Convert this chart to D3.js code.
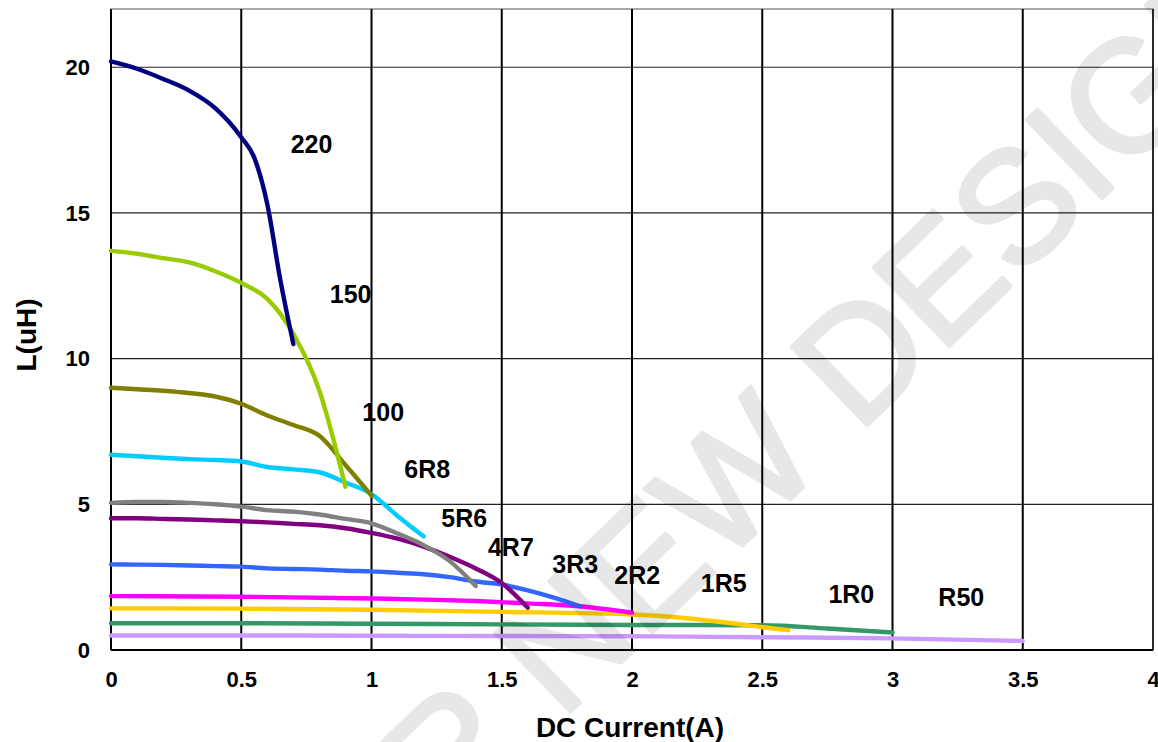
<!DOCTYPE html>
<html>
<head>
<meta charset="utf-8">
<script src="https://cdn.jsdelivr.net/npm/d3@7"></script>
<style>
  body { margin: 0; background: #fff; }
  text { font-family: "Liberation Sans", Arial, sans-serif; font-weight: bold; fill: #000; }
</style>
</head>
<body>
<svg id="chart" width="1158" height="742"></svg>
<script>
// inductance vs DC current, one curve per part code
var seriesNames = ["220", "150", "100", "6R8", "5R6", "4R7", "3R3", "2R2", "1R5", "1R0", "R50"];
var seriesColors = ["#000080", "#99cc00", "#808000", "#00ccff", "#808080", "#800080", "#3366ff", "#ff00ff", "#ffcc00", "#339966", "#cc99ff"];

var current220 = [0, 0.1, 0.2, 0.3, 0.4, 0.5, 0.55, 0.6, 0.65, 0.7];
var induct220  = [20.2, 19.95, 19.6, 19.2, 18.6, 17.6, 16.9, 15.3, 12.7, 10.5];
var current150 = [0, 0.1, 0.2, 0.3, 0.4, 0.5, 0.6, 0.7, 0.8, 0.9];
var induct150  = [13.7, 13.6, 13.45, 13.3, 13.0, 12.6, 12.05, 10.85, 8.9, 5.6];
var current100 = [0, 0.1, 0.2, 0.3, 0.4, 0.5, 0.6, 0.7, 0.8, 0.9, 1.0];
var induct100  = [9.0, 8.95, 8.9, 8.82, 8.7, 8.45, 8.05, 7.72, 7.35, 6.35, 5.3];
var current6R8 = [0, 0.1, 0.2, 0.3, 0.4, 0.5, 0.6, 0.7, 0.8, 0.9, 1.0, 1.1, 1.2];
var induct6R8  = [6.7, 6.65, 6.6, 6.55, 6.52, 6.47, 6.28, 6.2, 6.1, 5.75, 5.35, 4.6, 3.9];
var current5R6 = [0, 0.1, 0.2, 0.3, 0.4, 0.5, 0.6, 0.7, 0.8, 0.9, 1.0, 1.1, 1.2, 1.3, 1.4];
var induct5R6  = [5.05, 5.08, 5.08, 5.05, 5.0, 4.92, 4.8, 4.75, 4.65, 4.5, 4.35, 4.0, 3.6, 3.05, 2.2];
var current4R7 = [0, 0.1, 0.2, 0.3, 0.4, 0.5, 0.6, 0.7, 0.8, 0.9, 1.0, 1.1, 1.2, 1.3, 1.4, 1.5, 1.6];
var induct4R7  = [4.52, 4.52, 4.5, 4.48, 4.45, 4.42, 4.38, 4.33, 4.28, 4.18, 4.02, 3.82, 3.55, 3.2, 2.8, 2.3, 1.45];
var current3R3 = [0, 0.1, 0.2, 0.3, 0.4, 0.5, 0.6, 0.7, 0.8, 0.9, 1.0, 1.1, 1.2, 1.3, 1.4, 1.5, 1.6, 1.7, 1.8];
var induct3R3  = [2.94, 2.93, 2.92, 2.9, 2.88, 2.86, 2.8, 2.78, 2.76, 2.72, 2.7, 2.65, 2.6, 2.5, 2.35, 2.25, 2.05, 1.8, 1.5];
var current2R2 = [0, 0.5, 1.0, 1.2, 1.4, 1.6, 1.8, 2.0];
var induct2R2  = [1.85, 1.83, 1.77, 1.73, 1.68, 1.6, 1.5, 1.28];
var current1R5 = [0, 0.5, 1.0, 1.5, 2.0, 2.2, 2.4, 2.5, 2.6];
var induct1R5  = [1.43, 1.42, 1.38, 1.31, 1.22, 1.1, 0.9, 0.78, 0.68];
var current1R0 = [0, 0.5, 1.0, 1.5, 2.0, 2.5, 2.75, 3.0];
var induct1R0  = [0.92, 0.92, 0.9, 0.88, 0.86, 0.85, 0.74, 0.6];
var currentR50 = [0, 0.5, 1.0, 1.5, 2.0, 2.5, 3.0, 3.5];
var inductR50  = [0.5, 0.5, 0.49, 0.48, 0.47, 0.44, 0.4, 0.31];

// where each part code label sits, in chart units
var labelCurrent = [0.77, 0.92, 1.045, 1.214, 1.356, 1.535, 1.782, 2.02, 2.352, 2.842, 3.264];
var labelInduct  = [17.05, 11.9, 7.86, 5.9, 4.22, 3.22, 2.64, 2.26, 1.99, 1.61, 1.51];

var xTicks = [0, 0.5, 1, 1.5, 2, 2.5, 3, 3.5, 4];
var yTicks = [0, 5, 10, 15, 20];

var currents = [current220, current150, current100, current6R8, current5R6, current4R7, current3R3, current2R2, current1R5, current1R0, currentR50];
var inducts  = [induct220, induct150, induct100, induct6R8, induct5R6, induct4R7, induct3R3, induct2R2, induct1R5, induct1R0, inductR50];

var margin = {top: 9, right: 5, bottom: 92, left: 111};
var width = 1158 - margin.left - margin.right,
    height = 742 - margin.top - margin.bottom;

var svg = d3.select("#chart");
var g = svg.append("g").attr("transform", "translate(" + margin.left + "," + margin.top + ")");

var x = d3.scaleLinear().domain([0, 4]).range([0, width]);
var y = d3.scaleLinear().domain([0, 22]).range([height, 0]);

// frame
g.append("rect")
    .attr("width", width).attr("height", height)
    .attr("fill", "none").attr("stroke", "#555").attr("stroke-width", 1);

// horizontal grid
g.selectAll(".hgrid").data(yTicks.filter(function(d) { return d > 0; }))
  .enter().append("line")
    .attr("x1", 0).attr("x2", width)
    .attr("y1", function(d) { return y(d); }).attr("y2", function(d) { return y(d); })
    .attr("stroke", "#222").attr("stroke-width", 1.2);

// vertical grid, heavier
g.selectAll(".vgrid").data(xTicks.filter(function(d) { return d > 0 && d < 4; }))
  .enter().append("line")
    .attr("x1", function(d) { return x(d); }).attr("x2", function(d) { return x(d); })
    .attr("y1", 0).attr("y2", height)
    .attr("stroke", "#000").attr("stroke-width", 2);

// axes lines
g.append("line").attr("x1", 0).attr("x2", 0).attr("y1", 0).attr("y2", height)
    .attr("stroke", "#000").attr("stroke-width", 2);
g.append("line").attr("x1", 0).attr("x2", width).attr("y1", height).attr("y2", height)
    .attr("stroke", "#000").attr("stroke-width", 2);
g.append("line").attr("x1", width).attr("x2", width).attr("y1", 0).attr("y2", height)
    .attr("stroke", "#000").attr("stroke-width", 1.5);

// tick labels
var xAxis = g.append("g").attr("transform", "translate(0," + height + ")")
    .call(d3.axisBottom(x).tickValues(xTicks).tickSize(0).tickPadding(21).tickFormat(d3.format("")));
var yAxis = g.append("g")
    .call(d3.axisLeft(y).tickValues(yTicks).tickSize(0).tickPadding(21).tickFormat(d3.format("")));
[xAxis, yAxis].forEach(function(a) {
    a.select(".domain").remove();
    a.selectAll("text")
        .style("font-family", '"Liberation Sans", Arial, sans-serif')
        .style("font-weight", "bold").style("font-size", "22px").attr("fill", "#000");
});

// curves, drawn from the smallest part up so the big ones sit on top
var line = d3.line()
    .x(function(d) { return x(d[0]); })
    .y(function(d) { return y(d[1]); })
    .curve(d3.curveMonotoneX);

for (var i = seriesNames.length - 1; i >= 0; i--) {
    var pts = currents[i].map(function(c, j) { return [c, inducts[i][j]]; });
    g.append("path")
        .datum(pts)
        .attr("d", line)
        .attr("fill", "none")
        .attr("stroke", seriesColors[i])
        .attr("stroke-width", 4.4)
        .attr("stroke-linecap", "round")
        .attr("stroke-linejoin", "round");
}

// part code labels
g.selectAll(".lbl").data(seriesNames)
  .enter().append("text")
    .attr("x", function(d, i) { return x(labelCurrent[i]); })
    .attr("y", function(d, i) { return y(labelInduct[i]); })
    .attr("text-anchor", "middle")
    .style("font-size", "25px")
    .text(function(d) { return d; });

// axis titles
svg.append("text")
    .attr("x", 630).attr("y", 737)
    .attr("text-anchor", "middle")
    .style("font-size", "28px")
    .text("DC Current(A)");
svg.append("text")
    .attr("transform", "translate(36,335) rotate(-90)")
    .attr("text-anchor", "middle")
    .style("font-size", "28px")
    .text("L(uH)");

// watermark, semi transparent over everything
var wm = svg.append("g").attr("opacity", 0.09)
    .attr("transform", "translate(858,434) rotate(-44)");
wm.append("text")
    .style("font-size", "158px").style("font-weight", "normal")
    .style("fill", "#000").style("stroke", "#000").style("stroke-width", 4)
    .style("stroke-linejoin", "round")
    .text("DESIGN");
wm.append("text")
    .attr("text-anchor", "end")
    .style("font-size", "158px").style("font-weight", "normal")
    .style("fill", "#000").style("stroke", "#000").style("stroke-width", 4)
    .style("stroke-linejoin", "round")
    .text("NOT FOR NEW\u00a0");
</script>
</body>
</html>
